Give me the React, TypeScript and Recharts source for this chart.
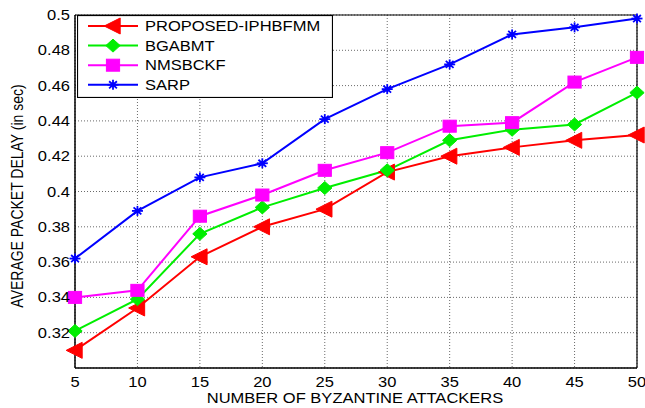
import React from 'react';
import { LineChart, Line, XAxis, YAxis, CartesianGrid, ReferenceLine } from 'recharts';

const attackers = [5, 10, 15, 20, 25, 30, 35, 40, 45, 50];
const proposed = [0.31, 0.334, 0.363, 0.38, 0.39, 0.411, 0.42, 0.425, 0.429, 0.432];
const bgabmt = [0.321, 0.339, 0.376, 0.391, 0.402, 0.412, 0.429, 0.435, 0.438, 0.456];
const nmsbckf = [0.34, 0.344, 0.386, 0.398, 0.412, 0.422, 0.437, 0.439, 0.462, 0.476];
const sarp = [0.362, 0.389, 0.408, 0.416, 0.441, 0.458, 0.472, 0.489, 0.493, 0.498];
const yTicks = [0.32, 0.34, 0.36, 0.38, 0.4, 0.42, 0.44, 0.46, 0.48, 0.5];
const seriesNames = ['PROPOSED-IPHBFMM', 'BGABMT', 'NMSBCKF', 'SARP'];
const colors = ['#ff0000', '#00ee00', '#ff00ff', '#0000ff'];
const xTitle = 'NUMBER OF BYZANTINE ATTACKERS';
const yTitle = 'AVERAGE PACKET DELAY (in sec)';

const data = attackers.map((x, i) => ({
  x,
  proposed: proposed[i],
  bgabmt: bgabmt[i],
  nmsbckf: nmsbckf[i],
  sarp: sarp[i],
}));

const FONT = 'Liberation Sans, Arial, sans-serif';
const SX = 1.18;

function Marker({ kind, cx, cy, color }: { kind: number; cx: number; cy: number; color: string }) {
  if (kind === 0) {
    const s = 8;
    return <polygon points={`${cx - s * 1.1},${cy} ${cx + s * 0.9},${cy - s} ${cx + s * 0.9},${cy + s}`} fill={color} stroke={color} />;
  }
  if (kind === 1) {
    const s = 6.5;
    return <polygon points={`${cx},${cy - s} ${cx + s * 1.1},${cy} ${cx},${cy + s} ${cx - s * 1.1},${cy}`} fill={color} stroke={color} />;
  }
  if (kind === 2) {
    const s = 6;
    return <rect x={cx - s * 1.1} y={cy - s} width={2.2 * s} height={2 * s} fill={color} stroke={color} />;
  }
  const r = 5;
  const lines = [0, 45, 90, 135].map((a) => {
    const rad = (a * Math.PI) / 180;
    return (
      <line key={a} x1={cx - r * 1.1 * Math.cos(rad)} y1={cy - r * Math.sin(rad)} x2={cx + r * 1.1 * Math.cos(rad)} y2={cy + r * Math.sin(rad)} stroke={color} strokeWidth={1.8} />
    );
  });
  return <g>{lines}<circle cx={cx} cy={cy} r={2.5} fill={color} /></g>;
}

const makeDot = (kind: number) => (props: any) => {
  const { cx, cy, index } = props;
  if (cx == null || cy == null) return <g key={`d${kind}-${index}`} />;
  return <Marker key={`d${kind}-${index}`} kind={kind} cx={cx} cy={cy} color={colors[kind]} />;
};

function XTick(props: any) {
  const { x, payload } = props;
  return (
    <text transform={`translate(${x},387) scale(${SX},1)`} textAnchor="middle" fontSize={14} fontFamily={FONT} fill="#000">
      {payload.value}
    </text>
  );
}

function YTick(props: any) {
  const { y, payload } = props;
  return (
    <text transform={`translate(70,${y + 5}) scale(${SX},1)`} textAnchor="end" fontSize={14} fontFamily={FONT} fill="#000">
      {String(Number(Number(payload.value).toFixed(2)))}
    </text>
  );
}

function XTitle() {
  return (
    <text transform={`translate(355,403) scale(${SX},1)`} textAnchor="middle" fontSize={14} fontFamily={FONT} fill="#000">
      {xTitle}
    </text>
  );
}

function YTitle() {
  return (
    <text transform={`translate(23,196) scale(${SX},1) rotate(-90)`} textAnchor="middle" fontSize={14} fontFamily={FONT} fill="#000">
      {yTitle}
    </text>
  );
}

function LegendBox() {
  return (
    <svg width={256} height={83} style={{ display: 'block' }}>
      <rect x={0.5} y={0.5} width={255} height={82} fill="#fff" stroke="#000" strokeWidth={1.2} />
      {seriesNames.map((n, i) => {
        const y = 11 + i * 19.6;
        return (
          <g key={n}>
            <line x1={11} x2={61} y1={y} y2={y} stroke={colors[i]} strokeWidth={2} />
            <Marker kind={i} cx={36} cy={y} color={colors[i]} />
            <text transform={`translate(68,${y + 5}) scale(${SX},1)`} fontFamily={FONT} fontSize={14} fill="#000">{n}</text>
          </g>
        );
      })}
    </svg>
  );
}

export default function App() {
  return (
    <div style={{ position: 'absolute', left: 0, top: 0, width: 645, height: 408, background: '#fff' }}>
      <LineChart width={645} height={408} data={data} margin={{ top: 15, right: 8, bottom: 0, left: 0 }}>
        <CartesianGrid stroke="#444" strokeDasharray="1 2" strokeWidth={0.8} />
        <XAxis
          dataKey="x"
          type="number"
          domain={[5, 50]}
          ticks={attackers}
          tickLine={false}
          axisLine={{ stroke: '#000', strokeWidth: 1.5 }}
          tick={<XTick />}
          height={40}
          label={{ content: () => <XTitle /> }}
        />
        <YAxis
          type="number"
          width={75}
          domain={[0.3, 0.5]}
          ticks={yTicks}
          interval={0}
          tickLine={false}
          axisLine={{ stroke: '#000', strokeWidth: 1.5 }}
          tick={<YTick />}
          label={{ content: () => <YTitle /> }}
        />
        <ReferenceLine y={0.5} stroke="#000" strokeWidth={1.2} />
        <ReferenceLine x={50} stroke="#000" strokeWidth={1.2} />
        <Line dataKey="proposed" name={seriesNames[0]} stroke={colors[0]} strokeWidth={2} dot={makeDot(0)} isAnimationActive={false} />
        <Line dataKey="bgabmt" name={seriesNames[1]} stroke={colors[1]} strokeWidth={2} dot={makeDot(1)} isAnimationActive={false} />
        <Line dataKey="nmsbckf" name={seriesNames[2]} stroke={colors[2]} strokeWidth={2} dot={makeDot(2)} isAnimationActive={false} />
        <Line dataKey="sarp" name={seriesNames[3]} stroke={colors[3]} strokeWidth={2} dot={makeDot(3)} isAnimationActive={false} />
      </LineChart>
      <div style={{ position: 'absolute', left: 77, top: 15 }}>
        <LegendBox />
      </div>
    </div>
  );
}
